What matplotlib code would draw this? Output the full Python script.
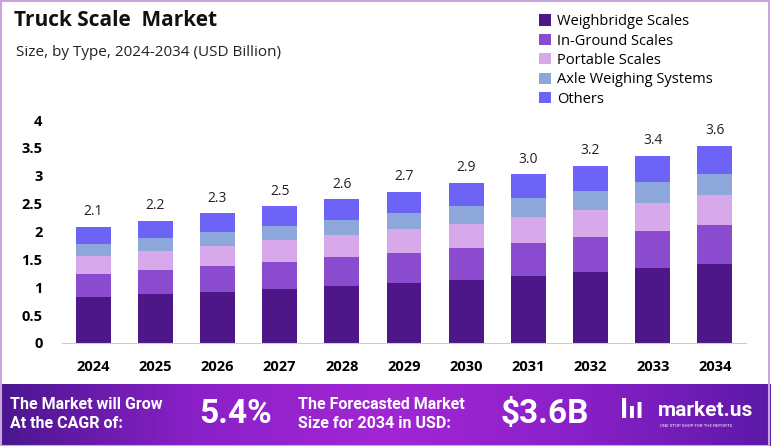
import matplotlib.pyplot as plt
import numpy as np
from matplotlib.patches import Rectangle
from matplotlib.colors import LinearSegmentedColormap

years = ['2024', '2025', '2026', '2027', '2028', '2029', '2030', '2031', '2032', '2033', '2034']
weighbridge = [0.83, 0.875, 0.92, 0.96, 1.02, 1.08, 1.13, 1.20, 1.27, 1.35, 1.41]
in_ground = [0.41, 0.44, 0.46, 0.50, 0.52, 0.54, 0.58, 0.60, 0.63, 0.66, 0.71]
portable = [0.32, 0.33, 0.36, 0.38, 0.39, 0.42, 0.43, 0.46, 0.49, 0.51, 0.53]
axle = [0.22, 0.24, 0.25, 0.25, 0.28, 0.30, 0.32, 0.34, 0.34, 0.36, 0.39]
others = [0.30, 0.31, 0.34, 0.36, 0.37, 0.37, 0.41, 0.43, 0.45, 0.48, 0.50]
totals = ['2.1', '2.2', '2.3', '2.5', '2.6', '2.7', '2.9', '3.0', '3.2', '3.4', '3.6']

series = [
    ('Weighbridge Scales', weighbridge, '#4e1787'),
    ('In-Ground Scales', in_ground, '#8a4bcf'),
    ('Portable Scales', portable, '#d7a9ea'),
    ('Axle Weighing Systems', axle, '#8ea7db'),
    ('Others', others, '#6d63f7'),
]

plt.rcParams['font.family'] = ['Open Sans', 'DejaVu Sans']

fig = plt.figure(figsize=(7.71, 4.46), dpi=100)
fig.patch.set_facecolor('white')

ax = fig.add_axes([62 / 771, 1 - 343 / 446, 684 / 771, 223 / 446])
x = np.arange(len(years))
bottom = np.zeros(len(years))
for name, vals, col in series:
    ax.bar(x, vals, 0.56, bottom=bottom, color=col, label=name, zorder=2)
    bottom += np.array(vals)

for i, t in enumerate(totals):
    ax.text(x[i], bottom[i] + 0.27, t, ha='center', va='center', fontsize=10, color='#222222')

ax.set_xlim(-0.5, 10.5)
ax.set_ylim(0, 4)
ax.set_yticks([0, 0.5, 1, 1.5, 2, 2.5, 3, 3.5, 4])
ax.set_yticklabels(['0', '0.5', '1', '1.5', '2', '2.5', '3', '3.5', '4'], fontweight='bold', fontsize=10.5)
ax.set_xticks(x)
ax.set_xticklabels(years, fontweight='bold', fontsize=10.5)
ax.tick_params(length=0, pad=12)
ax.tick_params(axis='y', pad=14)
for s in ['top', 'right', 'left']:
    ax.spines[s].set_visible(False)
ax.spines['bottom'].set_color('#cccccc')
ax.set_facecolor('none')

fig.text(14 / 771, 1 - 21 / 446, 'Truck Scale  Market', fontsize=15, fontweight='bold',
         va='center', ha='left', color='#111111')
fig.text(16 / 771, 1 - 53 / 446, 'Size, by Type, 2024-2034 (USD Billion)', fontsize=11,
         va='center', ha='left', color='#222222')

handles, labels = ax.get_legend_handles_labels()
leg = fig.legend(handles, labels, loc='upper left', bbox_to_anchor=(526 / 771, 1 - 1 / 446),
                 frameon=False, fontsize=10.5, handlelength=0.8, handleheight=0.8,
                 handletextpad=0.4, labelspacing=0.3)

# bottom banner with gradient
bax = fig.add_axes([0, 0, 1, 62 / 446])
grad = np.linspace(0, 1, 256)
cmap = LinearSegmentedColormap.from_list('ban', ['#4b168f', '#8a20c8', '#a226d4', '#8a20c8', '#5c19a8'])
bax.imshow(np.vstack([grad, grad]), aspect='auto', cmap=cmap, extent=[0, 1, 0, 1])
bax.set_xlim(0, 1)
bax.set_ylim(0, 1)
bax.axis('off')

bax.text(10 / 771, 0.52, 'The Market will Grow\nAt the CAGR of:', color='white', fontsize=11.5,
         fontweight='bold', va='center', ha='left', linespacing=1.3, family='Roboto')
bax.text(199 / 771, 0.52, '5.4%', color='white', fontsize=24, fontweight='bold',
         va='center', ha='left', family='Roboto')
bax.text(298 / 771, 0.52, 'The Forecasted Market\nSize for 2034 in USD:', color='white', fontsize=11.5,
         fontweight='bold', va='center', ha='left', linespacing=1.3, family='Roboto')
bax.text(500 / 771, 0.52, '$3.6B', color='white', fontsize=24, fontweight='bold',
         va='center', ha='left', family='Roboto')
bax.text(620 / 771, 0.55, 'ꟾıl', color='white', fontsize=16, fontweight='bold',
         va='center', ha='left', family='DejaVu Sans')
bax.text(658 / 771, 0.58, 'market.us', color='white', fontsize=15, fontweight='bold',
         va='center', ha='left', family='Roboto')
bax.text(660 / 771, 0.32, 'ONE STOP SHOP FOR THE REPORTS', color='white', fontsize=3.2,
         va='center', ha='left', family='Roboto')

# thin border around the figure
fig.patches.append(Rectangle((0.001, 0.001), 0.997, 0.997, transform=fig.transFigure,
                             fill=False, edgecolor='#c8a6dc', linewidth=1.5))

fig.savefig('out.png', dpi=100)
